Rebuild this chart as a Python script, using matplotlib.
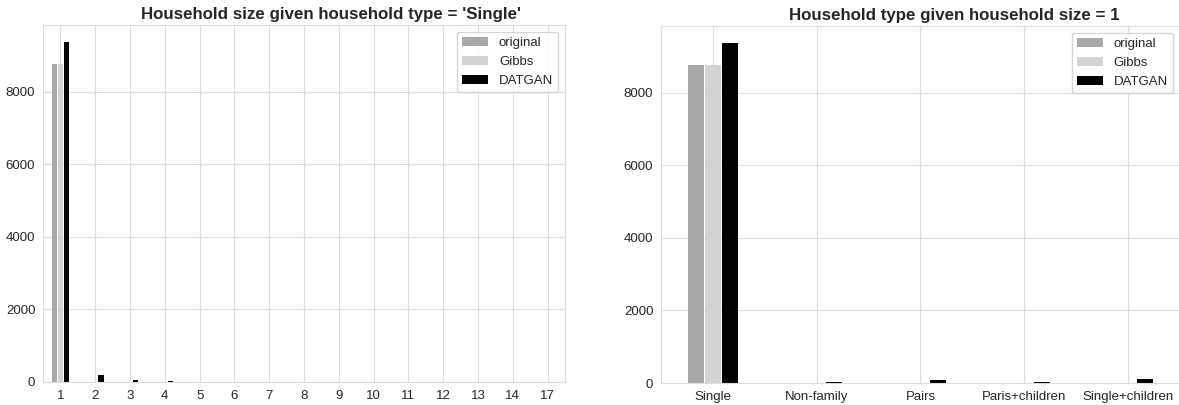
import numpy as np
import matplotlib
matplotlib.use("Agg")
import matplotlib.pyplot as plt
import seaborn as sns

sns.set_style("whitegrid")
plt.rcParams['font.family'] = ['Liberation Sans', 'DejaVu Sans']

# Household size given household type = 'Single'
sizes = ["1", "2", "3", "4", "5", "6", "7", "8", "9", "10", "11", "12", "13", "14", "17"]
size_original = [8760, 0, 0, 0, 0, 0, 0, 0, 0, 0, 0, 0, 0, 0, 0]
size_gibbs = [8760, 0, 0, 0, 0, 0, 0, 0, 0, 0, 0, 0, 0, 0, 0]
size_datgan = [9370, 200, 60, 30, 5, 3, 2, 2, 1, 1, 1, 1, 1, 1, 1]

# Household type given household size = 1
types = ["Single", "Non-family", "Pairs", "Paris+children", "Single+children"]
type_original = [8760, 0, 0, 0, 0]
type_gibbs = [8760, 0, 0, 0, 0]
type_datgan = [9370, 30, 80, 30, 110]

labels = ["original", "Gibbs", "DATGAN"]
colors = ["darkgray", "lightgray", "black"]

W, H = 1179, 405
fig = plt.figure(figsize=(W / 100, H / 100), dpi=100)
ax1 = fig.add_axes([43 / W, (H - 382) / H, 522 / W, 357 / H])
ax2 = fig.add_axes([661 / W, (H - 383) / H, 519 / W, 357 / H])


def grouped_bars(ax, cats, series, title, title_x):
    x = np.arange(len(cats))
    w = 0.5 / 3
    for i, (vals, lab, col) in enumerate(zip(series, labels, colors)):
        # small gap between neighbouring bars instead of a white edge
        ax.bar(x + (i - 1) * w, vals, width=w * 0.93, color=col, label=lab,
               linewidth=0)
    ax.set_xticks(x)
    ax.set_xticklabels(cats)
    ax.set_xlim(-0.5, len(cats) - 0.5)
    ax.set_title(title, fontsize=12.2, fontweight="bold", pad=4, x=title_x)
    ax.tick_params(axis="both", labelsize=9.5, pad=2)
    ax.legend(loc="upper right", fontsize=9.5, frameon=True)
    ax.grid(True, color="#dddddd")
    for s in ax.spines.values():
        s.set_color("#dddddd")


grouped_bars(ax1, sizes, [size_original, size_gibbs, size_datgan],
             "Household size given household type = 'Single'", 0.551)
grouped_bars(ax2, types, [type_original, type_gibbs, type_datgan],
             "Household type given household size = 1", 0.565)

fig.savefig("out.png", dpi=100)
